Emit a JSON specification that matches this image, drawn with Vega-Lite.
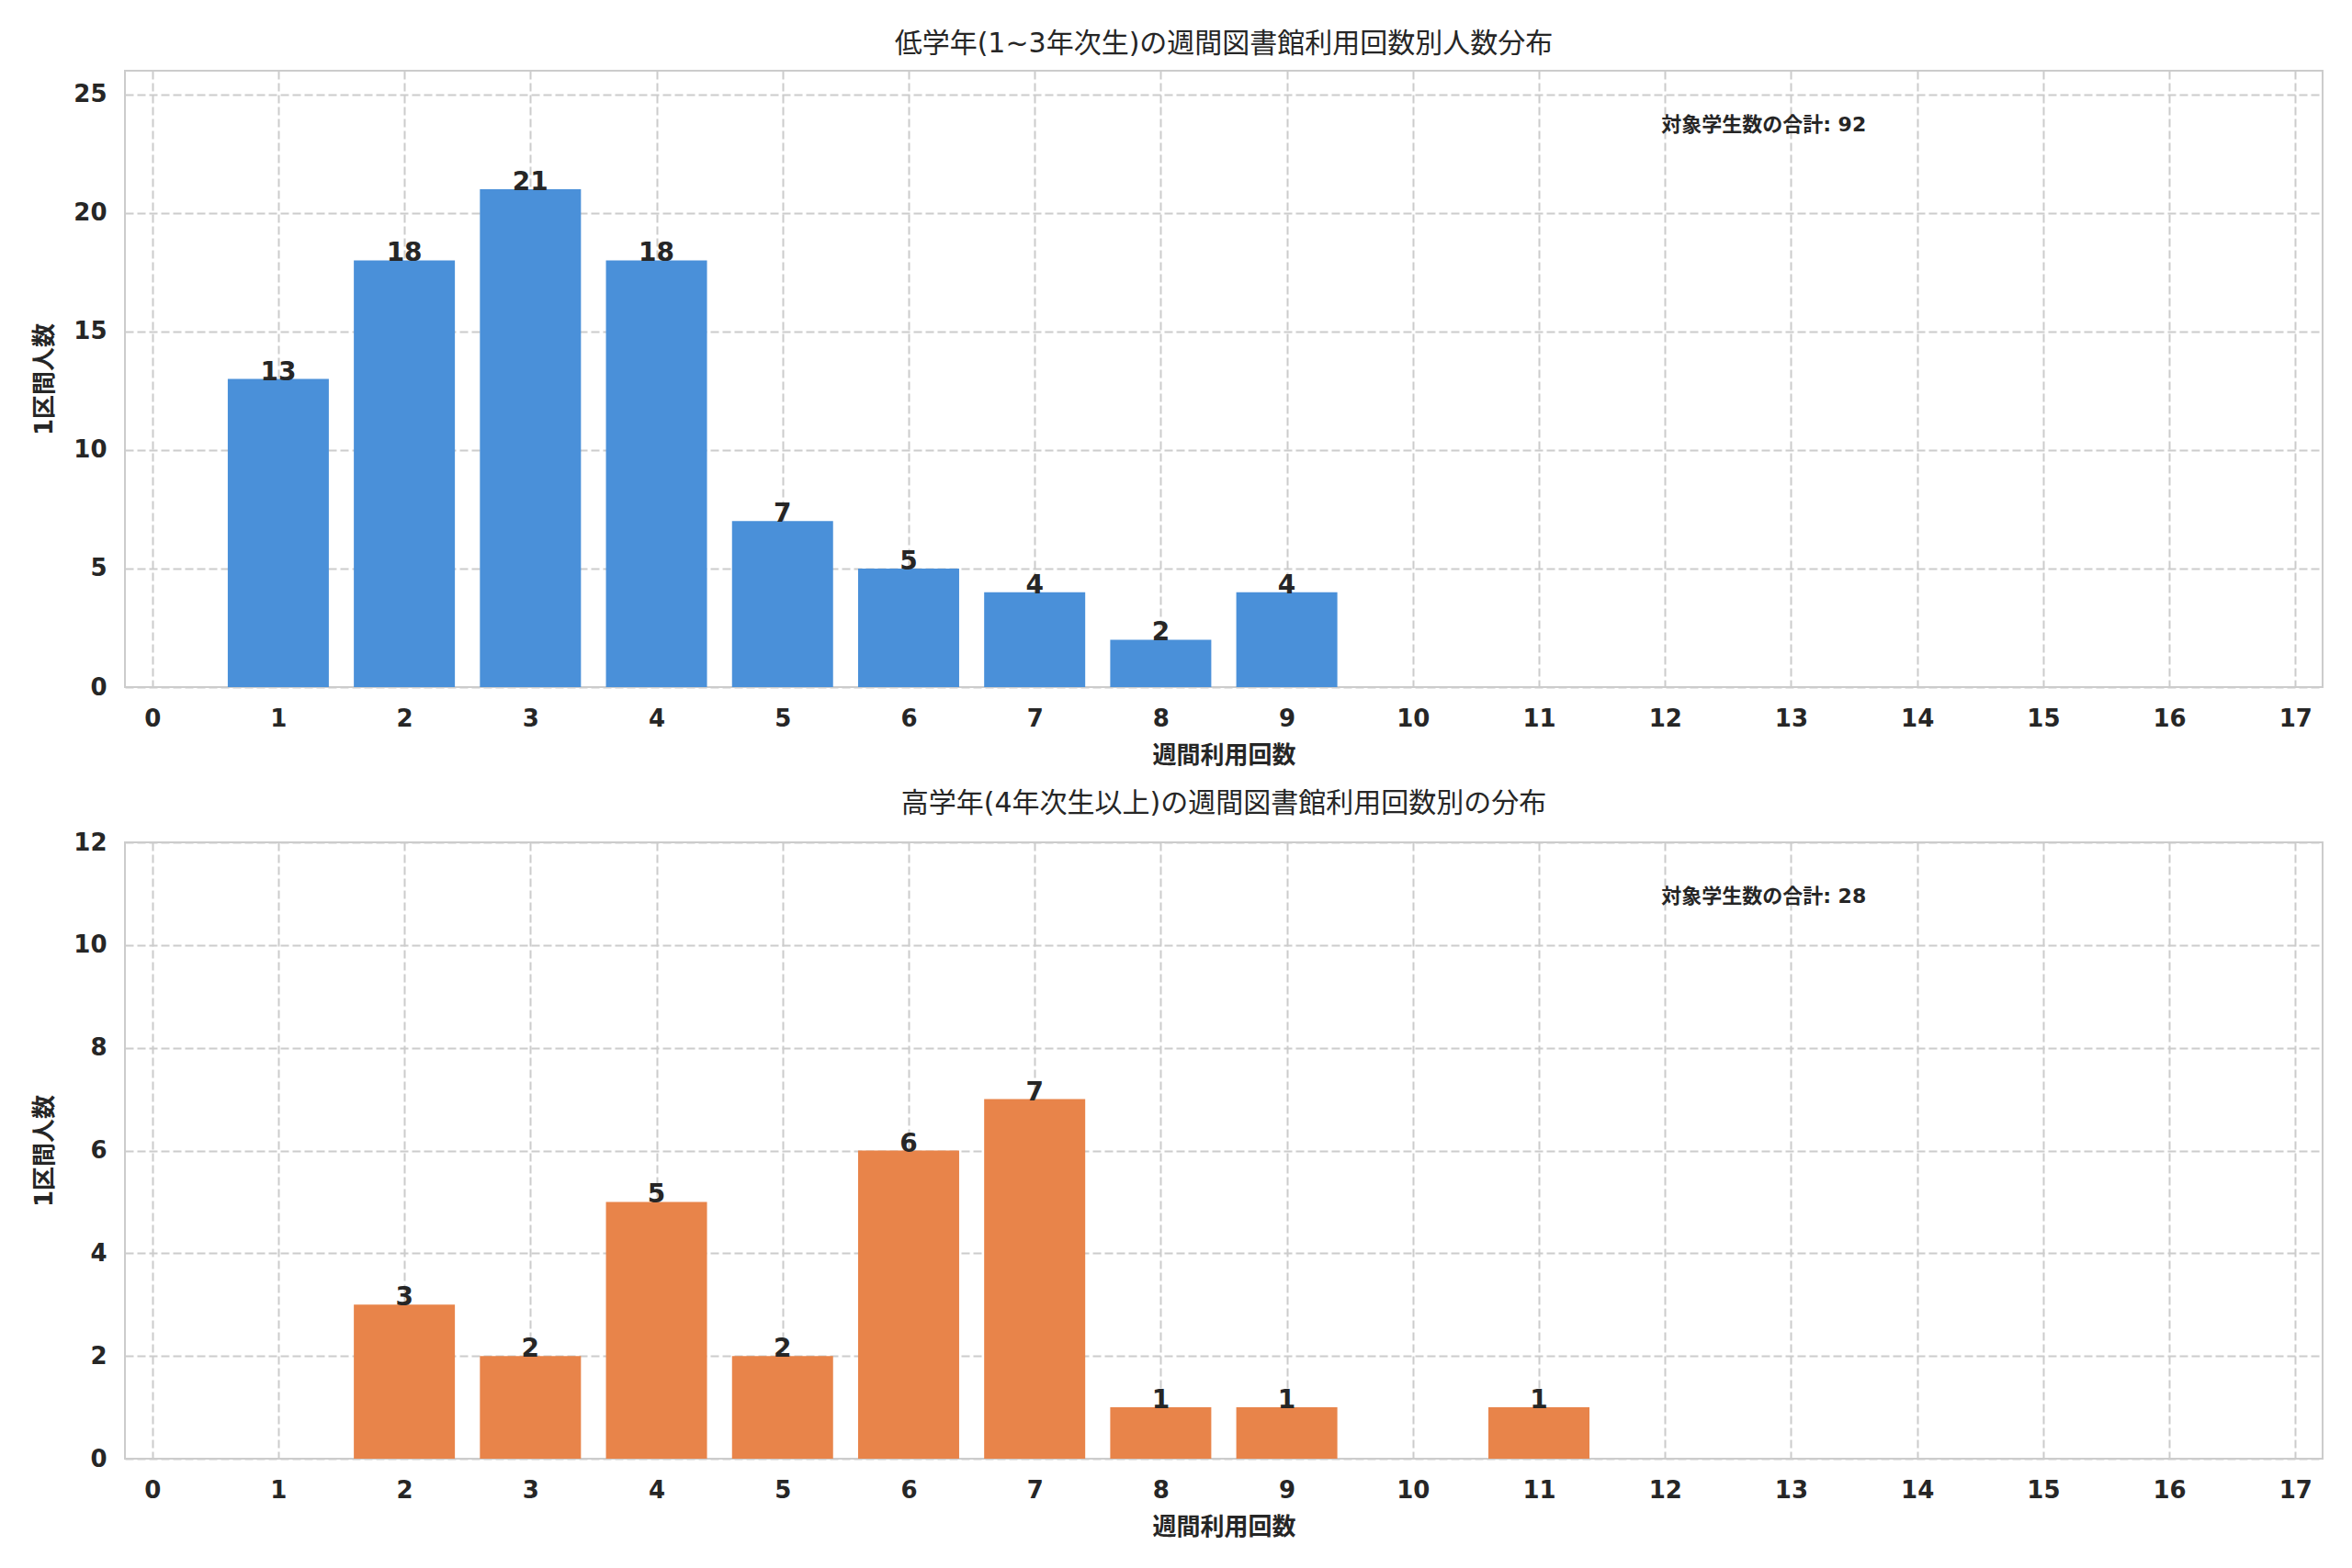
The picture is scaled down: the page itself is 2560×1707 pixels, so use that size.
{
  "$schema": "https://vega.github.io/schema/vega-lite/v6.json",
  "background": "white",
  "padding": {"top": 32, "left": 34, "right": 5, "bottom": 5},
  "spacing": 23,
  "datasets": {
    "low": [
      {"n": 1, "c": 13}, {"n": 2, "c": 18}, {"n": 3, "c": 21},
      {"n": 4, "c": 18}, {"n": 5, "c": 7}, {"n": 6, "c": 5},
      {"n": 7, "c": 4}, {"n": 8, "c": 2}, {"n": 9, "c": 4}
    ],
    "high": [
      {"n": 2, "c": 3}, {"n": 3, "c": 2}, {"n": 4, "c": 5},
      {"n": 5, "c": 2}, {"n": 6, "c": 6}, {"n": 7, "c": 7},
      {"n": 8, "c": 1}, {"n": 9, "c": 1}, {"n": 11, "c": 1}
    ],
    "note_low": [{"x": 11.97, "y": 23.7, "label": "対象学生数の合計: 92"}],
    "note_high": [{"x": 11.97, "y": 10.95, "label": "対象学生数の合計: 28"}]
  },
  "config": {
    "font": "DejaVu Sans, Noto Sans CJK JP",
    "view": {"stroke": "#cccccc", "strokeWidth": 2},
    "title": {"fontSize": 30, "fontWeight": "normal", "color": "#262626", "offset": 14},
    "axis": {
      "domain": false,
      "ticks": false,
      "grid": true,
      "gridColor": "#cccccc",
      "gridWidth": 2,
      "gridDash": [9, 4],
      "format": "d",
      "labelFont": "DejaVu Sans",
      "labelFontSize": 26,
      "labelFontWeight": "bold",
      "labelColor": "#262626",
      "titleFontSize": 26,
      "titleFontWeight": "bold",
      "titleColor": "#262626"
    },
    "axisX": {"labelPadding": 21, "titlePadding": 14},
    "axisY": {"labelPadding": 20, "titlePadding": 18}
  },
  "vconcat": [
    {
      "title": "低学年(1~3年次生)の週間図書館利用回数別人数分布",
      "width": 2392,
      "height": 671,
      "layer": [
        {
          "data": {"name": "low"},
          "mark": {"type": "bar", "color": "#4a90d9", "width": 110},
          "encoding": {
            "x": {
              "field": "n", "type": "quantitative",
              "scale": {"domain": [-0.18, 17.18], "nice": false, "zero": false},
              "axis": {"values": [0,1,2,3,4,5,6,7,8,9,10,11,12,13,14,15,16,17], "format": "d", "title": "週間利用回数"}
            },
            "y": {
              "field": "c", "type": "quantitative",
              "scale": {"domain": [0, 26], "nice": false},
              "axis": {"values": [0, 5, 10, 15, 20, 25], "format": "d", "title": "1区間人数"}
            }
          }
        },
        {
          "data": {"name": "low"},
          "mark": {"type": "text", "fontSize": 28, "fontWeight": "bold", "color": "#262626", "baseline": "alphabetic", "align": "center", "dy": 1},
          "encoding": {
            "x": {"field": "n", "type": "quantitative"},
            "y": {"field": "c", "type": "quantitative"},
            "text": {"field": "c", "type": "quantitative"}
          }
        },
        {
          "data": {"name": "note_low"},
          "mark": {"type": "text", "fontSize": 22, "fontWeight": "bold", "color": "#262626", "align": "left", "baseline": "middle"},
          "encoding": {
            "x": {"field": "x", "type": "quantitative"},
            "y": {"field": "y", "type": "quantitative"},
            "text": {"field": "label"}
          }
        }
      ]
    },
    {
      "title": "高学年(4年次生以上)の週間図書館利用回数別の分布",
      "width": 2392,
      "height": 671,
      "layer": [
        {
          "data": {"name": "high"},
          "mark": {"type": "bar", "color": "#e8844a", "width": 110},
          "encoding": {
            "x": {
              "field": "n", "type": "quantitative",
              "scale": {"domain": [-0.18, 17.18], "nice": false, "zero": false},
              "axis": {"values": [0,1,2,3,4,5,6,7,8,9,10,11,12,13,14,15,16,17], "format": "d", "title": "週間利用回数"}
            },
            "y": {
              "field": "c", "type": "quantitative",
              "scale": {"domain": [0, 12], "nice": false},
              "axis": {"values": [0, 2, 4, 6, 8, 10, 12], "format": "d", "title": "1区間人数"}
            }
          }
        },
        {
          "data": {"name": "high"},
          "mark": {"type": "text", "fontSize": 28, "fontWeight": "bold", "color": "#262626", "baseline": "alphabetic", "align": "center", "dy": 1},
          "encoding": {
            "x": {"field": "n", "type": "quantitative"},
            "y": {"field": "c", "type": "quantitative"},
            "text": {"field": "c", "type": "quantitative"}
          }
        },
        {
          "data": {"name": "note_high"},
          "mark": {"type": "text", "fontSize": 22, "fontWeight": "bold", "color": "#262626", "align": "left", "baseline": "middle"},
          "encoding": {
            "x": {"field": "x", "type": "quantitative"},
            "y": {"field": "y", "type": "quantitative"},
            "text": {"field": "label"}
          }
        }
      ]
    }
  ]
}
